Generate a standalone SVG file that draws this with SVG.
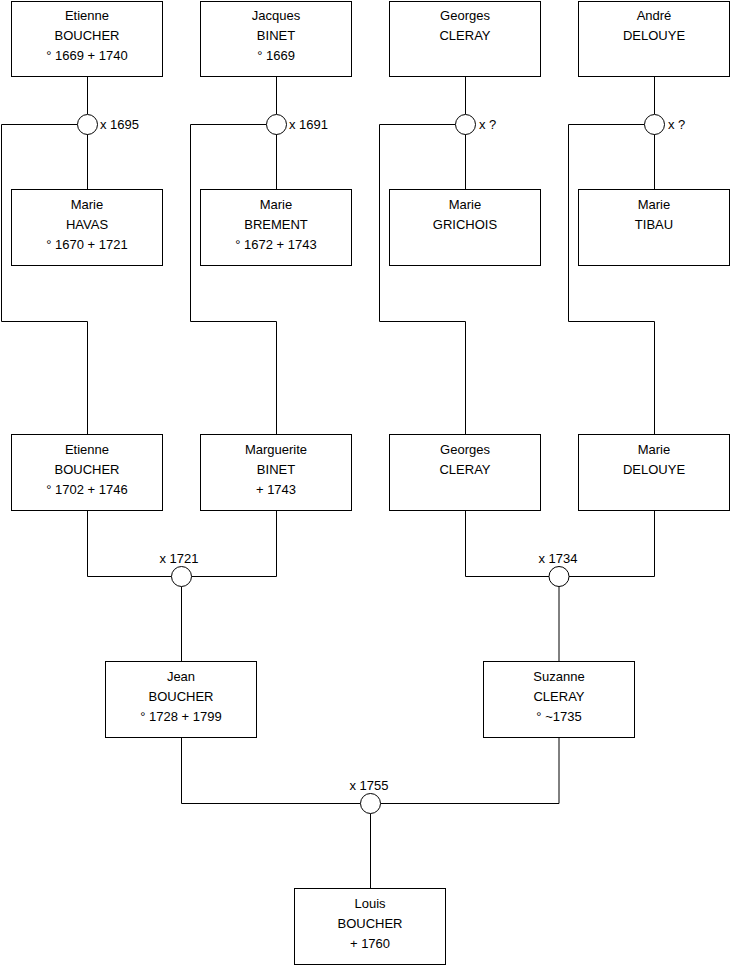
<svg xmlns="http://www.w3.org/2000/svg" width="740" height="975" viewBox="0 0 740 975">
<style>
.box{fill:#fff;stroke:#000;stroke-width:1}
.ln{fill:none;stroke:#000;stroke-width:1}
.c{fill:#fff;stroke:#000;stroke-width:1}
text{font-family:"Liberation Sans",Arial,sans-serif;font-size:13px;fill:#000}
.m{text-anchor:middle}
</style>
<rect width="740" height="975" fill="#fff"/>
<g id="connectors">
<path class="ln" d="M87.5 76.5V114 M87.5 134V189.5 M77.5 124.5H1.5V321.5H87.5V434.5"/>
<path class="ln" d="M276.5 76.5V114 M276.5 134V189.5 M266.5 124.5H190.5V321.5H276.5V434.5"/>
<path class="ln" d="M465.5 76.5V114 M465.5 134V189.5 M455.5 124.5H379.5V321.5H465.5V434.5"/>
<path class="ln" d="M654.5 76.5V114 M654.5 134V189.5 M644.5 124.5H568.5V321.5H654.5V434.5"/>
<path class="ln" d="M87.5 510.5V576.5H171.5 M191.5 576.5H276.5V510.5 M181.5 586.5V661.5"/>
<path class="ln" d="M465.5 510.5V576.5H549 M569 576.5H654.5V510.5 M559 586.5V661.5"/>
<path class="ln" d="M181.5 737.5V803.5H360.5 M380.5 803.5H559V737.5 M370.5 813.5V888.5"/>
</g>
<g id="m1695"><circle class="c" cx="87.5" cy="124.5" r="10"/><text x="100" y="128.5">x 1695</text></g>
<g id="m1691"><circle class="c" cx="276.5" cy="124.5" r="10"/><text x="289" y="128.5">x 1691</text></g>
<g id="m_grichois"><circle class="c" cx="465.5" cy="124.5" r="10"/><text x="479" y="128.5">x ?</text></g>
<g id="m_tibau"><circle class="c" cx="654.5" cy="124.5" r="10"/><text x="668" y="128.5">x ?</text></g>
<g id="m1721"><circle class="c" cx="181.5" cy="576.5" r="10"/><text class="m" x="179" y="562.5">x 1721</text></g>
<g id="m1734"><circle class="c" cx="559" cy="576.5" r="10"/><text class="m" x="558" y="562.5">x 1734</text></g>
<g id="m1755"><circle class="c" cx="370.5" cy="803.5" r="10"/><text class="m" x="369" y="789.5">x 1755</text></g>

<g id="etienne1669"><rect class="box" x="11.5" y="1.5" width="151" height="75"/>
<text class="m" x="87" y="19.5">Etienne</text><text class="m" x="87" y="39.5">BOUCHER</text><text class="m" x="87" y="59.5">° 1669 + 1740</text></g>
<g id="jacques1669"><rect class="box" x="200.5" y="1.5" width="151" height="75"/>
<text class="m" x="276" y="19.5">Jacques</text><text class="m" x="276" y="39.5">BINET</text><text class="m" x="276" y="59.5">° 1669</text></g>
<g id="georges_sr"><rect class="box" x="389.5" y="1.5" width="151" height="75"/>
<text class="m" x="465" y="19.5">Georges</text><text class="m" x="465" y="39.5">CLERAY</text></g>
<g id="andre"><rect class="box" x="578.5" y="1.5" width="151" height="75"/>
<text class="m" x="654" y="19.5">André</text><text class="m" x="654" y="39.5">DELOUYE</text></g>

<g id="havas"><rect class="box" x="11.5" y="189.5" width="151" height="76"/>
<text class="m" x="87" y="208.5">Marie</text><text class="m" x="87" y="228.5">HAVAS</text><text class="m" x="87" y="248.5">° 1670 + 1721</text></g>
<g id="brement"><rect class="box" x="200.5" y="189.5" width="151" height="76"/>
<text class="m" x="276" y="208.5">Marie</text><text class="m" x="276" y="228.5">BREMENT</text><text class="m" x="276" y="248.5">° 1672 + 1743</text></g>
<g id="grichois"><rect class="box" x="389.5" y="189.5" width="151" height="76"/>
<text class="m" x="465" y="208.5">Marie</text><text class="m" x="465" y="228.5">GRICHOIS</text></g>
<g id="tibau"><rect class="box" x="578.5" y="189.5" width="151" height="76"/>
<text class="m" x="654" y="208.5">Marie</text><text class="m" x="654" y="228.5">TIBAU</text></g>

<g id="etienne1702"><rect class="box" x="11.5" y="434.5" width="151" height="76"/>
<text class="m" x="87" y="453.5">Etienne</text><text class="m" x="87" y="473.5">BOUCHER</text><text class="m" x="87" y="493.5">° 1702 + 1746</text></g>
<g id="marguerite"><rect class="box" x="200.5" y="434.5" width="151" height="76"/>
<text class="m" x="276" y="453.5">Marguerite</text><text class="m" x="276" y="473.5">BINET</text><text class="m" x="276" y="493.5">+ 1743</text></g>
<g id="georges_jr"><rect class="box" x="389.5" y="434.5" width="151" height="76"/>
<text class="m" x="465" y="453.5">Georges</text><text class="m" x="465" y="473.5">CLERAY</text></g>
<g id="marie_delouye"><rect class="box" x="578.5" y="434.5" width="151" height="76"/>
<text class="m" x="654" y="453.5">Marie</text><text class="m" x="654" y="473.5">DELOUYE</text></g>

<g id="jean"><rect class="box" x="105.5" y="661.5" width="151" height="76"/>
<text class="m" x="181" y="680.5">Jean</text><text class="m" x="181" y="700.5">BOUCHER</text><text class="m" x="181" y="720.5">° 1728 + 1799</text></g>
<g id="suzanne"><rect class="box" x="483.5" y="661.5" width="151" height="76"/>
<text class="m" x="559" y="680.5">Suzanne</text><text class="m" x="559" y="700.5">CLERAY</text><text class="m" x="559" y="720.5">° ~1735</text></g>

<g id="louis"><rect class="box" x="294.5" y="888.5" width="151" height="76"/>
<text class="m" x="370" y="907.5">Louis</text><text class="m" x="370" y="927.5">BOUCHER</text><text class="m" x="370" y="947.5">+ 1760</text></g>
</svg>
